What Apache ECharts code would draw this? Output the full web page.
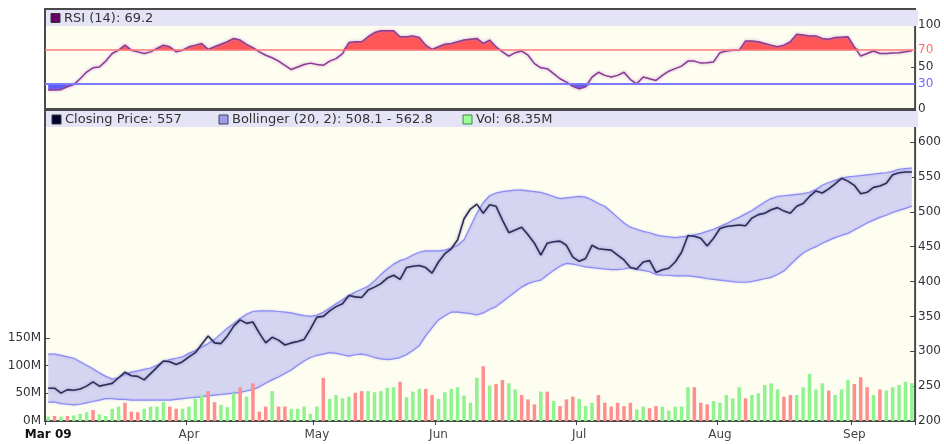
<!DOCTYPE html>
<html>
<head>
<meta charset="utf-8">
<script src="https://cdn.jsdelivr.net/npm/echarts@6/dist/echarts.min.js"></script>
<style>
  html, body { margin: 0; padding: 0; background: #fff; }
  #chart { width: 944px; height: 444px; }
</style>
</head>
<body>
<div id="chart"></div>
<script>
// month labels and trading days (2009)
var monthNames = ['Mar 09', 'Apr', 'May', 'Jun', 'Jul', 'Aug', 'Sep'];
var marDays = [2, 3, 4, 5, 6, 9, 10, 11, 12, 13, 16, 17, 18, 19, 20, 23, 24, 25, 26, 27, 30, 31];
var aprDays = [1, 2, 3, 6, 7, 8, 9, 14, 15, 16, 17, 20, 21, 22, 23, 24, 27, 28, 29, 30];
var mayDays = [4, 5, 6, 7, 8, 11, 12, 13, 14, 15, 18, 19, 20, 21, 22, 25, 26, 27, 29];
var junDays = [1, 2, 3, 4, 5, 8, 9, 10, 11, 12, 15, 16, 17, 18, 19, 22, 23, 24, 25, 26, 29, 30];
var julDays = [2, 3, 6, 7, 8, 9, 10, 13, 14, 15, 16, 17, 20, 21, 22, 23, 24, 27, 28, 29, 30, 31];
var augDays = [3, 4, 5, 6, 7, 10, 11, 12, 13, 14, 17, 18, 19, 20, 21, 24, 25, 26, 27, 28, 31];
var sepDays = [1, 2, 3, 4, 7, 8, 9, 10, 11, 14];

//收盘价
var closePrice = [
  247, 247, 240, 245, 244, 246, 250, 256, 250, 252,
  254, 262, 270, 265, 264, 259, 268, 277, 286, 285,
  281, 285, 292, 298, 310, 322, 312, 311, 322, 336,
  345, 340, 342, 326, 312, 320, 316, 309, 312, 314,
  317, 332, 349, 350, 358, 364, 368, 380, 378, 377,
  388, 392, 397, 405, 409, 403, 420, 422, 423, 420,
  412, 428, 440, 447, 460, 490, 504, 511, 498, 510,
  508, 488, 470, 474, 478, 467, 455, 438, 455, 457,
  458, 452, 435, 429, 433, 452, 447, 446, 445, 438,
  431, 420, 418, 428, 430, 413, 417, 419, 428, 442,
  466, 465, 462, 451, 462, 476, 479, 480, 481, 480,
  491, 496, 498, 503, 506, 501, 498, 508, 512, 522,
  530, 527, 533, 540, 548, 544, 538, 526, 528, 535,
  537, 541, 553, 556, 557, 557
];
//布林带上轨
var bollUpper = [
  296, 296, 294, 292, 290, 285, 280, 275, 269, 264,
  260, 262, 267, 270, 272, 274, 276, 280, 285, 288,
  290, 292, 297, 301, 306, 311, 317, 325, 333, 340,
  347, 353, 357, 358, 358, 358, 357, 356, 355, 353,
  351, 350, 352, 356, 362, 368, 374, 380, 385, 389,
  393, 401, 410, 418, 425, 430, 433, 438, 442, 444,
  444, 444, 445, 448, 452, 460, 479, 498, 513, 523,
  527, 529, 530, 531, 531, 530, 529, 528, 525, 522,
  519, 520, 521, 522, 521, 517, 512, 508, 500, 492,
  484, 478, 475, 472, 470, 467, 465, 464, 463, 464,
  465, 467, 469, 472, 475, 479, 483, 488, 492, 497,
  502, 508, 514, 519, 522, 523, 524, 525, 526, 528,
  532, 538, 542, 545, 548, 550, 551, 552, 553, 554,
  555, 556, 558, 561, 562, 562.8
];
//布林带下轨
var bollLower = [
  227, 227, 225, 224, 223, 224, 226, 228, 230, 232,
  232, 231, 231, 230, 230, 230, 230, 230, 230, 230,
  231, 232, 233, 234, 235, 236, 237, 238, 239, 240,
  241, 243, 245, 249, 254, 259, 263, 268, 273, 280,
  286, 291, 294, 296, 298, 297, 295, 293, 295, 296,
  294, 291, 289, 288, 289, 291, 295, 301, 308, 322,
  334, 345, 351, 356, 356, 355, 354, 352, 355, 360,
  364, 371, 378, 385, 392, 397, 400, 402, 409, 416,
  422, 426, 425, 423, 421, 420, 419, 418, 417, 417,
  418, 420, 417, 416, 414, 410, 409, 409, 408, 408,
  408, 407, 406, 404, 403, 402, 401, 400, 399, 399,
  400, 402, 404, 406, 410, 415, 424, 433, 441, 446,
  450, 455, 459, 463, 466, 469, 474, 479, 484, 488,
  492, 495, 499, 502, 505, 508.1
];
//成交量（百万）
var volume = [
  8, 9, 8, 9, 10, 13, 16, 20, 12, 9,
  22, 26, 33, 17, 16, 22, 26, 26, 34, 26,
  22, 22, 26, 40, 46, 54, 34, 29, 25, 50,
  61, 44, 68, 17, 26, 54, 26, 26, 22, 22,
  26, 13, 26, 78, 40, 47, 41, 44, 51, 54,
  54, 52, 54, 60, 61, 71, 43, 53, 58, 58,
  47, 40, 52, 58, 61, 46, 33, 78, 99, 64,
  67, 74, 68, 57, 47, 39, 30, 53, 53, 36,
  27, 39, 44, 40, 27, 33, 47, 33, 26, 33,
  27, 33, 21, 26, 23, 27, 26, 19, 26, 26,
  61, 61, 33, 30, 36, 33, 47, 41, 61, 41,
  47, 50, 65, 68, 57, 44, 47, 47, 61, 85,
  57, 68, 55, 47, 57, 74, 67, 79, 61, 47,
  57, 55, 61, 65, 71, 68.35
];
//成交量颜色 1=涨(绿) 0=跌(红)
var volUp = [
  1, 0, 1, 0, 1, 1, 1, 0, 1, 1,
  1, 1, 0, 0, 0, 1, 1, 1, 1, 0,
  0, 1, 1, 1, 1, 0, 0, 1, 1, 1,
  0, 1, 0, 0, 0, 1, 0, 0, 1, 1,
  1, 1, 1, 0, 1, 1, 1, 1, 0, 0,
  1, 1, 1, 1, 1, 0, 1, 1, 1, 0,
  0, 1, 1, 1, 1, 1, 1, 1, 0, 1,
  0, 0, 1, 1, 0, 0, 0, 1, 0, 1,
  0, 0, 0, 1, 1, 1, 0, 0, 0, 0,
  0, 0, 1, 1, 0, 0, 1, 1, 1, 1,
  1, 0, 0, 0, 1, 1, 1, 1, 1, 0,
  1, 1, 1, 1, 1, 0, 0, 1, 1, 1,
  1, 1, 0, 1, 1, 1, 0, 0, 0, 1,
  0, 1, 1, 1, 1, 1
];
//RSI(14)
var rsi = [
  22.5, 22.5, 23, 26.5, 29, 36, 44, 49, 50, 57,
  66, 70, 76, 70, 68, 66, 68, 72, 76, 74,
  68, 70, 74, 76, 78, 71, 74, 77, 80, 84,
  82, 77, 73, 68, 64, 61, 57, 52, 47, 50,
  53, 54.6, 53, 52, 57, 60, 66, 79, 80, 80,
  86, 91, 93, 93, 93, 86, 86, 87, 85, 76,
  71, 74, 77, 78, 80, 82, 83, 84, 78, 82,
  74, 68, 63, 67, 69, 64, 54, 49, 48, 42,
  36, 32, 27, 24, 26.5, 38, 43.7, 40, 38, 40,
  43.7, 35, 30, 38, 36, 34, 40, 45, 48, 51,
  57, 57, 54.6, 55, 56, 67, 69, 70, 70, 81,
  81, 80, 78, 76, 74, 76, 80, 89, 88, 87,
  87, 84, 83, 85, 85.5, 86, 74, 63, 66, 69,
  66, 66, 66.5, 67, 68, 69.2
];

var priceTicks = [200, 250, 300, 350, 400, 450, 500, 550, 600];
var volumeTicks = [0, 50, 100, 150];
var rsiLabels = [0, 30, 50, 70, 100];
var rsiTickMarks = [0, 50, 100];

// 横轴日期
function pad(n) { return n < 10 ? '0' + n : '' + n; }
var dates = [];
var monthStart = {};
[marDays, aprDays, mayDays, junDays, julDays, augDays, sepDays].forEach(function (days, m) {
  days.forEach(function (d, k) {
    if (k === 0) monthStart[dates.length] = monthNames[m];
    dates.push('2009-' + pad(m + 3) + '-' + pad(d));
  });
});
function isMonthStart(idx) { return monthStart[idx] !== undefined; }

var font = 'DejaVu Sans';
var chart = echarts.init(document.getElementById('chart'));

var option = {
  animation: false,
  backgroundColor: '#ffffff',
  textStyle: { fontFamily: font },
  grid: [
    { left: 45, right: 25, top: 9, height: 100, show: true, backgroundColor: '#fdfdf0', borderColor: '#4a4a4a', borderWidth: 2 },
    { left: 45, right: 25, top: 110, bottom: 23, show: true, backgroundColor: '#fdfdf0', borderColor: '#4a4a4a', borderWidth: 2 }
  ],
  xAxis: [
    {
      type: 'category', gridIndex: 0, data: dates, boundaryGap: true,
      axisLine: { show: false }, axisTick: { show: false }, axisLabel: { show: false }, splitLine: { show: false }
    },
    {
      type: 'category', gridIndex: 1, data: dates, boundaryGap: true,
      axisLine: { show: false },
      axisTick: { show: true, interval: isMonthStart, length: 4, lineStyle: { color: '#444', width: 1 } },
      axisLabel: {
        interval: isMonthStart, margin: 8, fontSize: 12, color: '#444', fontFamily: font,
        formatter: function (value, index) {
          if (index === 0) return '{b|' + monthStart[0] + '}';
          return monthStart[index] || '';
        },
        rich: { b: { fontWeight: 'bold', color: '#111', fontSize: 12, fontFamily: font } }
      },
      splitLine: { show: false }
    }
  ],
  yAxis: [
    {
      type: 'value', gridIndex: 0, position: 'right', min: 0, max: 119,
      splitLine: { show: false }, axisLine: { show: false },
      axisTick: { show: true, inside: true, length: 4, customValues: rsiTickMarks, lineStyle: { color: '#444' } },
      axisLabel: {
        customValues: rsiLabels, margin: 3, fontSize: 12, fontFamily: font,
        color: function (v) {
          v = Number(v);
          return v === 70 ? '#ff6a6a' : v === 30 ? '#6a6aff' : '#333';
        }
      }
    },
    {
      type: 'value', gridIndex: 1, position: 'right', min: 200, max: 646,
      splitLine: { show: false }, axisLine: { show: false },
      axisTick: { show: true, inside: true, length: 5, customValues: priceTicks, lineStyle: { color: '#444' } },
      axisLabel: { customValues: priceTicks, margin: 3, fontSize: 12, color: '#333', fontFamily: font }
    },
    {
      type: 'value', gridIndex: 1, position: 'left', min: 0, max: 562,
      splitLine: { show: false }, axisLine: { show: false },
      axisTick: { show: true, inside: true, length: 5, customValues: volumeTicks, lineStyle: { color: '#444' } },
      axisLabel: {
        customValues: volumeTicks, margin: 4, fontSize: 12, color: '#333', fontFamily: font,
        formatter: function (v) { return v + 'M'; }
      }
    }
  ],
  series: [
    // RSI 超买填充
    {
      type: 'line', xAxisIndex: 0, yAxisIndex: 0, stack: 'ob', silent: true, z: 2,
      data: rsi.map(function () { return 70; }), symbol: 'none', lineStyle: { opacity: 0 }
    },
    {
      type: 'line', xAxisIndex: 0, yAxisIndex: 0, stack: 'ob', silent: true, z: 2,
      data: rsi.map(function (v) { return Math.max(v - 70, 0); }), symbol: 'none',
      lineStyle: { opacity: 0 }, areaStyle: { color: '#ff5656', opacity: 1 }
    },
    // RSI 超卖填充
    {
      type: 'line', xAxisIndex: 0, yAxisIndex: 0, stack: 'os', silent: true, z: 2,
      data: rsi.map(function (v) { return Math.min(v, 30); }), symbol: 'none', lineStyle: { opacity: 0 }
    },
    {
      type: 'line', xAxisIndex: 0, yAxisIndex: 0, stack: 'os', silent: true, z: 2,
      data: rsi.map(function (v) { return 30 - Math.min(v, 30); }), symbol: 'none',
      lineStyle: { opacity: 0 }, areaStyle: { color: '#5a5aff', opacity: 1 }
    },
    // RSI 线
    {
      name: 'RSI', type: 'line', xAxisIndex: 0, yAxisIndex: 0, z: 4,
      data: rsi, symbol: 'none',
      lineStyle: { color: '#8b3d8f', width: 1.5, shadowColor: 'rgba(190,120,210,0.8)', shadowBlur: 3 },
      markLine: {
        silent: true, symbol: ['none', 'none'], label: { show: false },
        data: [
          { yAxis: 70, lineStyle: { color: '#ff7b7b', width: 1.5, type: 'solid' } },
          { yAxis: 30, lineStyle: { color: '#7b7bff', width: 2, type: 'solid' } }
        ]
      }
    },
    // 布林带
    {
      name: 'lower', type: 'line', xAxisIndex: 1, yAxisIndex: 1, stack: 'bb', z: 2,
      data: bollLower, symbol: 'none',
      lineStyle: { color: '#8c8cf4', width: 1.2, shadowColor: 'rgba(130,130,255,0.5)', shadowBlur: 2 }
    },
    {
      name: 'band', type: 'line', xAxisIndex: 1, yAxisIndex: 1, stack: 'bb', z: 2,
      data: bollUpper.map(function (u, i) { return u - bollLower[i]; }), symbol: 'none',
      lineStyle: { color: '#8c8cf4', width: 1.2, shadowColor: 'rgba(130,130,255,0.5)', shadowBlur: 2 },
      areaStyle: { color: '#d5d5f1', opacity: 1 }
    },
    // 成交量
    {
      name: 'Vol', type: 'bar', xAxisIndex: 1, yAxisIndex: 2, z: 3, barWidth: 3.5,
      data: volume.map(function (v, i) {
        return { value: v, itemStyle: { color: volUp[i] ? '#90f290' : '#ff8e8e' } };
      })
    },
    // 收盘价
    {
      name: 'Close', type: 'line', xAxisIndex: 1, yAxisIndex: 1, z: 5,
      data: closePrice, symbol: 'none',
      lineStyle: { color: '#2c2c55', width: 1.6, shadowColor: 'rgba(100,100,170,0.6)', shadowBlur: 3 }
    }
  ],
  graphic: [
    { type: 'rect', z: 10, silent: true, shape: { x: 46, y: 10, width: 872, height: 16 }, style: { fill: '#e4e4f6' } },
    { type: 'rect', z: 10, silent: true, shape: { x: 46, y: 111, width: 872, height: 16 }, style: { fill: '#e4e4f6' } },
    { type: 'rect', z: 11, shape: { x: 51, y: 13.5, width: 9, height: 9 }, style: { fill: '#660066', stroke: '#333', lineWidth: 1 } },
    { type: 'text', z: 11, x: 64, y: 18.5, style: { text: 'RSI (14): 69.2', font: '13px "DejaVu Sans"', fill: '#333', verticalAlign: 'middle' } },
    { type: 'rect', z: 11, shape: { x: 52, y: 115, width: 9, height: 9 }, style: { fill: '#000033', stroke: '#333', lineWidth: 1 } },
    { type: 'text', z: 11, x: 65, y: 120, style: { text: 'Closing Price: 557', font: '13px "DejaVu Sans"', fill: '#333', verticalAlign: 'middle' } },
    { type: 'rect', z: 11, shape: { x: 219, y: 115, width: 9, height: 9 }, style: { fill: '#9c9cf0', stroke: '#444', lineWidth: 1 } },
    { type: 'text', z: 11, x: 232, y: 120, style: { text: 'Bollinger (20, 2): 508.1 - 562.8', font: '13px "DejaVu Sans"', fill: '#333', verticalAlign: 'middle' } },
    { type: 'rect', z: 11, shape: { x: 463, y: 115, width: 9, height: 9 }, style: { fill: '#9cff9c', stroke: '#3a8a3a', lineWidth: 1 } },
    { type: 'text', z: 11, x: 476, y: 120, style: { text: 'Vol: 68.35M', font: '13px "DejaVu Sans"', fill: '#333', verticalAlign: 'middle' } }
  ]
};

chart.setOption(option);
</script>
</body>
</html>
